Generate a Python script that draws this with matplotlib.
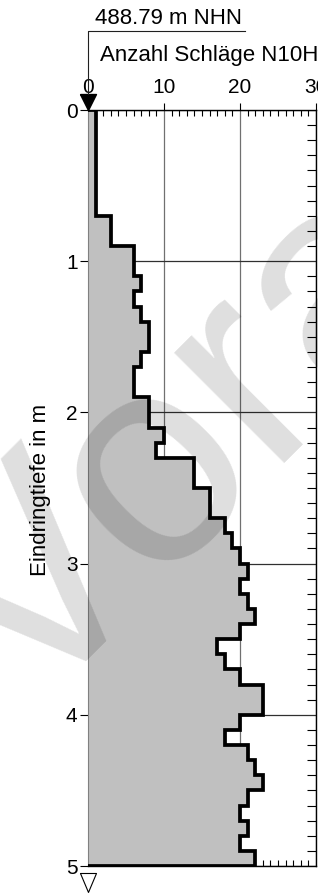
import matplotlib
matplotlib.use('Agg')
import matplotlib.pyplot as plt
import numpy as np
from matplotlib.path import Path
from matplotlib.lines import Line2D
from matplotlib.ticker import MultipleLocator

plt.rcParams['font.family'] = ['Liberation Sans', 'DejaVu Sans']

# depth intervals of 0.1 m, blow counts N10H per interval
depth_edges = np.round(np.arange(0, 5.01, 0.1), 1)
blows = [1, 1, 1, 1, 1, 1, 1, 3, 3, 6,
         6, 7, 6, 7, 8, 8, 7, 6, 6, 8,
         8, 10, 9, 14, 14, 16, 16, 18, 19, 20,
         21, 20, 21, 22, 20, 17, 18, 20, 23, 23,
         20, 18, 21, 22, 23, 21, 20, 21, 20, 22]
x_ticks = [0, 10, 20, 30]
y_ticks = [0, 1, 2, 3, 4, 5]
elevation = '488.79 m NHN'
x_title = 'Anzahl Schläge N10H'
y_title = 'Eindringtiefe in m'

W, H = 318, 893
fig = plt.figure(figsize=(W / 100, H / 100), dpi=100)

def fx(px):
    return px / W

def fy(py):
    return 1 - py / H

ax = fig.add_axes([fx(88), fy(866), fx(316) - fx(88), fy(110) - fy(866)])
ax.set_xlim(0, 30)
ax.set_ylim(5, 0)
ax.set_axisbelow(True)

# fill + outline
ax.stairs(blows, depth_edges, orientation='horizontal', baseline=0, fill=True,
          color='#c0c0c0', zorder=1)
ax.stairs(blows, depth_edges, orientation='horizontal', baseline=0, fill=False,
          color='black', lw=2.7, zorder=3)

# ticks
ax.set_xticks(x_ticks)
ax.set_yticks(y_ticks)
ax.xaxis.set_minor_locator(MultipleLocator(1))
ax.yaxis.set_minor_locator(MultipleLocator(0.1))
ax.tick_params(axis='x', which='major', top=True, bottom=False, labeltop=True,
               labelbottom=False, direction='out', length=5, width=0.8,
               labelsize=15, pad=4.5)
ax.tick_params(axis='x', which='minor', top=True, bottom=True, direction='in',
               length=4.3, width=0.8)
ax.tick_params(axis='y', which='major', left=True, right=False, direction='out',
               length=6, width=0.8, labelsize=15, pad=1.5)
ax.tick_params(axis='y', which='minor', left=False, right=True, direction='in',
               length=6.5, width=0.8)

ax.grid(True, axis='x', which='major', color='#707070', lw=0.9)
ax.grid(True, axis='y', which='major', color='#303030', lw=0.9)

ax.spines['left'].set_color('#808080')
for s in ['top', 'right', 'bottom']:
    ax.spines[s].set_color('black')
    ax.spines[s].set_linewidth(1.0)

# elevation marker at top and probe tip at bottom
top_tri = Path([(-1, 2), (1, 2), (0, 0), (-1, 2)])
ax.plot([0], [0], marker=top_tri, ms=23, color='black', clip_on=False, zorder=5)
bot_tri = Path([(-1, -0.875), (1, -0.875), (0, -3.25), (-1, -0.875)])
ax.plot([0], [5], marker=bot_tri, ms=37.4, mfc='white', mec='black', mew=0.8,
        ls='none', clip_on=False, zorder=5)

fig.add_artist(Line2D([fx(88), fx(88), fx(245)], [fy(94), fy(31), fy(31)],
                      transform=fig.transFigure, color='#202020', lw=0.8))
fig.text(fx(95), fy(19), elevation, fontsize=16, ha='left', va='center')
fig.text(fx(100), fy(55), x_title, fontsize=16, ha='left', va='center')
fig.text(fx(41), fy(490), y_title, fontsize=16, rotation=90, ha='center', va='center')

# watermark
fig.text(fx(246), fy(392), 'Vorab', fontsize=213, rotation=45, rotation_mode='anchor',
         ha='center', va='center', color='black', alpha=0.13, zorder=10)

fig.savefig('out.png', dpi=100)
